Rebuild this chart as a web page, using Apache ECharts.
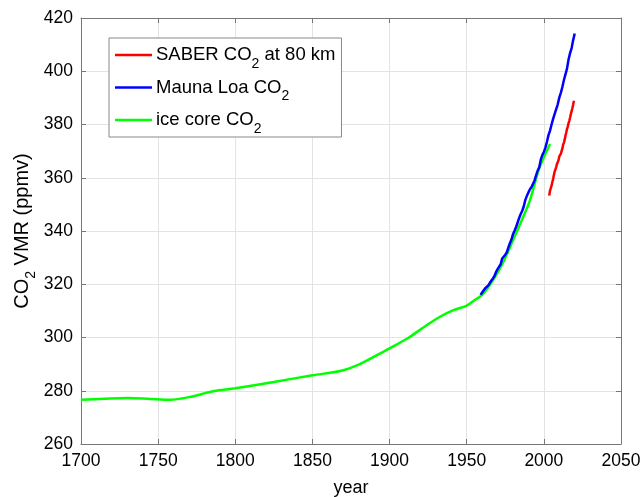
<!DOCTYPE html>
<html>
<head>
<meta charset="utf-8">
<script src="https://cdn.jsdelivr.net/npm/echarts@6/dist/echarts.min.js"></script>
<style>html,body{margin:0;padding:0;background:#fff}#c{width:644px;height:497px}</style>
</head>
<body>
<div id="c"></div>
<script>
// ---- data ----
const xTicks = [1700, 1750, 1800, 1850, 1900, 1950, 2000, 2050];
const yTicks = [260, 280, 300, 320, 340, 360, 380, 400, 420];

const iceYears = [1700, 1715, 1730, 1745, 1758, 1770, 1785, 1800, 1825, 1850, 1868, 1880, 1890, 1900, 1912, 1924, 1933, 1941, 1950, 1955, 1960, 1967, 1974, 1980, 1987, 1991, 1997, 2004];
const iceCO2 = [276.6, 277.0, 277.3, 276.9, 276.6, 277.6, 279.7, 280.9, 283.3, 285.8, 287.4, 289.8, 292.8, 295.9, 299.8, 304.6, 307.9, 310.2, 312.0, 314.0, 316.0, 321.5, 328.7, 336.5, 345.8, 351.5, 363.5, 372.7];

const maunaYears = [1959,1960,1961,1962,1963,1964,1965,1966,1967,1968,1969,1970,1971,1972,1973,1974,1975,1976,1977,1978,1979,1980,1981,1982,1983,1984,1985,1986,1987,1988,1989,1990,1991,1992,1993,1994,1995,1996,1997,1998,1999,2000,2001,2002,2003,2004,2005,2006,2007,2008,2009,2010,2011,2012,2013,2014,2015,2016,2017,2018,2019,2020];
const maunaCO2 = [316.0,316.9,317.6,318.5,319.0,319.6,320.0,321.4,322.2,323.1,324.6,325.7,326.3,327.5,329.7,330.2,331.1,332.0,333.8,335.4,336.8,338.8,340.1,341.5,343.2,344.9,346.4,347.6,349.3,351.7,353.2,354.5,355.7,356.5,357.2,359.0,361.0,362.7,363.9,366.8,368.5,369.7,371.3,373.5,376.0,377.7,380.0,382.1,384.0,385.8,387.6,390.1,391.9,394.1,396.7,398.8,401.0,404.4,406.8,408.7,411.7,414.2];

const saberYears = [2003.5,2004,2004.5,2005,2005.5,2006,2006.5,2007,2007.5,2008,2008.5,2009,2009.5,2010,2010.5,2011,2011.5,2012,2012.5,2013,2013.5,2014,2014.5,2015,2015.5,2016,2016.5,2017,2017.5,2018,2018.5,2019,2019.5];
const saberCO2 = [353.3,355.2,355.6,357.0,358.4,359.5,361.0,362.3,362.9,364.0,365.2,365.9,366.6,368.0,368.6,369.0,369.4,371.0,372.4,373.2,374.3,375.8,377.0,378.3,379.2,380.5,381.4,382.6,383.9,385.0,386.2,387.5,388.9];

const seriesNames = ['SABER CO2 at 80 km', 'Mauna Loa CO2', 'ice core CO2'];

function pairs(xs, ys) { return xs.map((x, i) => [x, ys[i]]); }

const FONT = '"Liberation Sans", Arial, Helvetica, sans-serif';
const chart = echarts.init(document.getElementById('c'), null, {renderer: 'canvas'});

function richFor(size, sub, lh, shift) {
  return {
    a: {fontSize: size, fontFamily: FONT, color: '#000', lineHeight: lh},
    s: {fontSize: sub, fontFamily: FONT, color: '#000', lineHeight: lh, padding: [shift * 2, 0, 0, 0]}
  };
}
const legendFmt = {
  'SABER CO2 at 80 km': '{a|SABER CO}{s|2}{a| at 80 km}',
  'Mauna Loa CO2': '{a|Mauna Loa CO}{s|2}',
  'ice core CO2': '{a|ice core CO}{s|2}'
};

const axisCommon = {
  axisLine: {show: true, lineStyle: {color: '#777', width: 1}},
  axisTick: {show: true, inside: true, length: 5, lineStyle: {color: '#777'}},
};

chart.setOption({
  animation: false,
  backgroundColor: '#fff',
  grid: {left: 81, right: 23, top: 18, bottom: 53, containLabel: false, outerBoundsMode: 'none'},
  legend: {
    orient: 'vertical',
    left: 109, top: 38,
    data: seriesNames,
    icon: 'rect',
    backgroundColor: '#fff',
    borderColor: '#888', borderWidth: 1,
    padding: [1, 6, 1, 6],
    itemWidth: 37, itemHeight: 2.5, itemGap: 0.5,
    formatter: n => legendFmt[n],
    textStyle: {rich: richFor(18.5, 14, 32, 9), lineHeight: 32, padding: [0, 0, 0, -1]}
  },
  xAxis: [{
    type: 'value', min: xTicks[0], max: xTicks[xTicks.length - 1], interval: 50,
    position: 'bottom',
    name: 'year', nameLocation: 'middle', nameGap: 35, nameMoveOverlap: false,
    nameTextStyle: {fontSize: 18, fontFamily: FONT, color: '#000'},
    ...axisCommon,
    axisLabel: {fontSize: 17.5, fontFamily: FONT, color: '#000', margin: 8, formatter: v => String(v)},
    splitLine: {show: true, lineStyle: {color: '#e3e3e3', width: 1}}
  }, {
    type: 'value', min: xTicks[0], max: xTicks[xTicks.length - 1], interval: 50,
    position: 'top',
    ...axisCommon,
    axisLabel: {show: false},
    splitLine: {show: false}
  }],
  yAxis: [{
    type: 'value', min: yTicks[0], max: yTicks[yTicks.length - 1], interval: 20,
    position: 'left',
    name: '{a|CO}{s|2}{a| VMR (ppmv)}', nameLocation: 'middle', nameGap: 43, nameMoveOverlap: false,
    nameTextStyle: {rich: richFor(20, 14, 32, 9)},
    ...axisCommon,
    axisLabel: {fontSize: 17.5, fontFamily: FONT, color: '#000', margin: 8},
    splitLine: {show: true, lineStyle: {color: '#e3e3e3', width: 1}}
  }, {
    type: 'value', min: yTicks[0], max: yTicks[yTicks.length - 1], interval: 20,
    position: 'right',
    ...axisCommon,
    axisLabel: {show: false},
    splitLine: {show: false}
  }],
  series: [
    {name: seriesNames[0], type: 'line', data: pairs(saberYears, saberCO2), symbol: 'none',
     lineStyle: {color: '#ff0000', width: 2.5}, itemStyle: {color: '#ff0000'}, z: 5},
    {name: seriesNames[1], type: 'line', data: pairs(maunaYears, maunaCO2), symbol: 'none',
     lineStyle: {color: '#0000ff', width: 2.5}, itemStyle: {color: '#0000ff'}, z: 4},
    {name: seriesNames[2], type: 'line', data: pairs(iceYears, iceCO2), symbol: 'none', smooth: 0.3,
     lineStyle: {color: '#00ff00', width: 2.5}, itemStyle: {color: '#00ff00'}, z: 3}
  ]
});
</script>
</body>
</html>
